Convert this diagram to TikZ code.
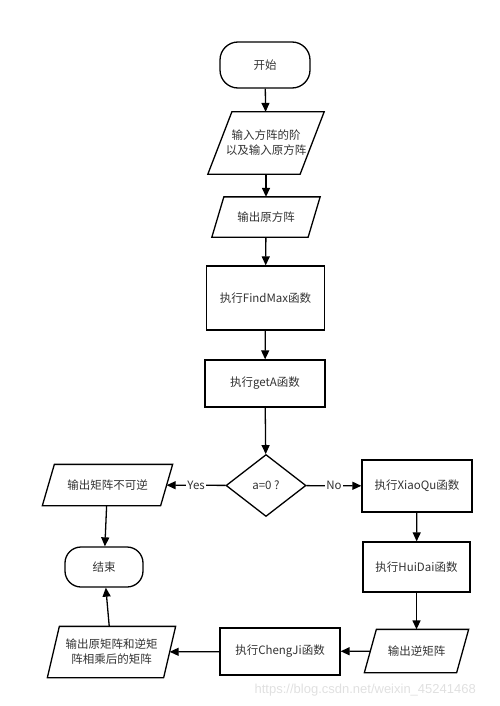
\documentclass[tikz,border=0pt]{standalone}
\usepackage{fontspec}
\setmainfont{Noto Sans CJK SC}
\newfontfamily\wmfont{Liberation Sans}
\usepackage{tikz}
\usetikzlibrary{arrows.meta,shapes.geometric}

% parallelogram outline round a node: name, half slant
\newcommand{\ioframe}[2]{\draw ([xshift=#2]#1.north west) -- ([xshift=#2]#1.north east) -- ([xshift=-#2]#1.south east) -- ([xshift=-#2]#1.south west) -- cycle;}

\begin{document}
\begin{tikzpicture}[x=1pt, y=-1pt, line width=1.3pt, >={Triangle[length=9pt,width=8pt]},
	every node/.style={font=\fontsize{11.5}{15}\selectfont, text=black!80, align=center, inner sep=0pt},
	term/.style={draw, rectangle, rounded corners=18pt},
	proc/.style={draw, rectangle},
	io/.style={rectangle},
	cond/.style={draw, diamond, minimum width=80pt, minimum height=62pt}]
	\useasboundingbox (0,0) rectangle (500,706);
	\node[term, minimum width=90pt, minimum height=46pt] (start) at (265,65) {开始};
	\node[io, minimum width=91pt, minimum height=61pt] (inmat) at (266,143) {输入方阵的阶\\以及输入原方阵};
	\node[io, minimum width=95pt, minimum height=39pt] (outmat) at (266,217) {输出原方阵};
	\node[proc, minimum width=118pt, minimum height=64pt] (fmax) at (265.5,298) {执行FindMax函数};
	\node[proc, minimum width=120pt, minimum height=47pt] (geta) at (265,383.5) {执行getA函数};
	\node[cond] (dec) at (266,485.5) {a=0 ?};
	\node[io, minimum width=117pt, minimum height=40pt] (noinv) at (107.5,485) {输出矩阵不可逆};
	\node[term, rounded corners=16pt, minimum width=78pt, minimum height=40pt] (stop) at (104,567) {结束};
	\node[proc, minimum width=110pt, minimum height=52pt] (xq) at (417,486) {执行XiaoQu函数};
	\node[proc, minimum width=107pt, minimum height=50pt] (hd) at (416.5,567) {执行HuiDai函数};
	\node[io, minimum width=91pt, minimum height=42pt] (outinv) at (416.5,651) {输出逆矩阵};
	\node[proc, minimum width=120pt, minimum height=47pt] (cj) at (280,651.5) {执行ChengJi函数};
	\node[io, minimum width=115pt, minimum height=50pt] (prod) at (111.5,652) {输出原矩阵和逆矩\\阵相乘后的矩阵};
	\ioframe{inmat}{12pt}
	\ioframe{outmat}{6pt}
	\ioframe{noinv}{6pt}
	\ioframe{outinv}{6pt}
	\ioframe{prod}{6pt}
	% main column
	\draw[->] (start) -- (inmat);
	\draw[->] (inmat) -- (outmat);
	\draw[->] (outmat) -- (fmax);
	\draw[->] (fmax) -- (geta);
	\draw[->] (geta) -- (dec);
	% branches
	\draw[->] (dec) -- node[fill=white, inner xsep=1pt] {Yes} (noinv);
	\draw[->] (dec) -- node[fill=white, inner xsep=1pt] {No} (xq);
	\draw[->] (noinv) -- (stop);
	\draw[->] (xq) -- (hd);
	\draw[->] (hd) -- (outinv);
	\draw[->] (outinv) -- (cj);
	\draw[->] (cj) -- (prod);
	\draw[->] (prod) -- (stop);
	\node[font=\wmfont\fontsize{13}{15}\selectfont, text=black!12, anchor=west] (wm) at (254,690) {https://blog.csdn.net/weixin\_45241468};
\end{tikzpicture}
\end{document}
